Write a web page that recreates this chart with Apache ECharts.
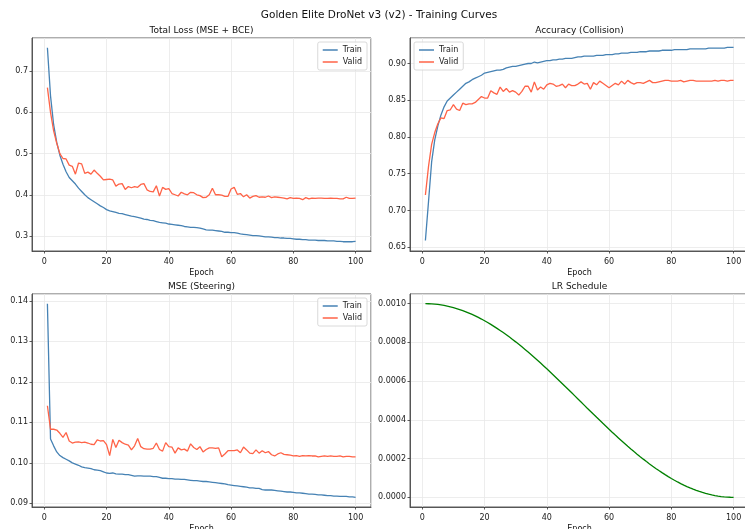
<!DOCTYPE html>
<html>
<head>
<meta charset="utf-8">
<script src="https://cdn.jsdelivr.net/npm/echarts@6.0.0/dist/echarts.min.js"></script>
<style>
  html, body { margin: 0; padding: 0; background: #fff; }
  #chart { width: 745px; height: 529px; }
</style>
</head>
<body>
<div id="chart"></div>
<script>
// epochs 1..100
const epochs = Array.from({ length: 100 }, (_, i) => i + 1)

const lossTrain = [
  0.757, 0.640, 0.570, 0.527, 0.496, 0.474, 0.456, 0.442, 0.434, 0.426,
  0.416, 0.408, 0.400, 0.393, 0.388, 0.383, 0.378, 0.373, 0.369, 0.364,
  0.361, 0.359, 0.357, 0.355, 0.354, 0.352, 0.350, 0.348, 0.347, 0.345,
  0.343, 0.341, 0.340, 0.338, 0.337, 0.335, 0.333, 0.332, 0.331, 0.329,
  0.328, 0.327, 0.326, 0.325, 0.323, 0.322, 0.321, 0.321, 0.320, 0.319,
  0.317, 0.315, 0.314, 0.314, 0.313, 0.312, 0.311, 0.309, 0.309, 0.308,
  0.308, 0.307, 0.305, 0.304, 0.303, 0.302, 0.301, 0.301, 0.300, 0.299,
  0.298, 0.298, 0.297, 0.296, 0.296, 0.295, 0.295, 0.294, 0.294, 0.293,
  0.292, 0.292, 0.291, 0.291, 0.290, 0.290, 0.290, 0.289, 0.289, 0.289,
  0.288, 0.288, 0.288, 0.287, 0.287, 0.286, 0.286, 0.286, 0.286, 0.287
]
const lossValid = [
  0.660, 0.600, 0.555, 0.525, 0.500, 0.488, 0.487, 0.472, 0.469, 0.450,
  0.477, 0.475, 0.452, 0.455, 0.450, 0.460, 0.452, 0.445, 0.436, 0.437,
  0.438, 0.436, 0.421, 0.426, 0.427, 0.413, 0.420, 0.417, 0.420, 0.418,
  0.425, 0.427, 0.412, 0.408, 0.407, 0.422, 0.397, 0.418, 0.413, 0.415,
  0.403, 0.400, 0.397, 0.406, 0.402, 0.400, 0.406, 0.405, 0.400, 0.398,
  0.393, 0.394, 0.400, 0.416, 0.400, 0.400, 0.399, 0.396, 0.396, 0.414,
  0.418, 0.401, 0.403, 0.395, 0.400, 0.392, 0.396, 0.398, 0.394, 0.395,
  0.394, 0.397, 0.393, 0.395, 0.394, 0.393, 0.392, 0.390, 0.393, 0.391,
  0.392, 0.391, 0.388, 0.393, 0.390, 0.392, 0.391, 0.392, 0.392, 0.391,
  0.391, 0.392, 0.391, 0.391, 0.390, 0.390, 0.394, 0.391, 0.391, 0.392
]

const accTrain = [
  0.659, 0.712, 0.766, 0.796, 0.815, 0.830, 0.841, 0.849, 0.853, 0.857,
  0.861, 0.865, 0.869, 0.873, 0.875, 0.878, 0.880, 0.882, 0.884, 0.887,
  0.888, 0.889, 0.890, 0.891, 0.891, 0.892, 0.894, 0.895, 0.896, 0.896,
  0.897, 0.898, 0.899, 0.900, 0.900, 0.902, 0.901, 0.902, 0.903, 0.904,
  0.904, 0.905, 0.905, 0.906, 0.906, 0.907, 0.907, 0.907, 0.908, 0.909,
  0.909, 0.910, 0.910, 0.910, 0.910, 0.911, 0.911, 0.911, 0.912, 0.912,
  0.912, 0.913, 0.913, 0.914, 0.914, 0.914, 0.915, 0.915, 0.915, 0.916,
  0.916, 0.916, 0.917, 0.917, 0.917, 0.917, 0.918, 0.918, 0.918, 0.918,
  0.919, 0.919, 0.919, 0.919, 0.919, 0.920, 0.920, 0.920, 0.920, 0.920,
  0.920, 0.921, 0.921, 0.921, 0.921, 0.921, 0.921, 0.922, 0.922, 0.922
]
const accValid = [
  0.721, 0.760, 0.790, 0.806, 0.818, 0.826, 0.825, 0.836, 0.837, 0.844,
  0.838, 0.836, 0.846, 0.844, 0.845, 0.845, 0.847, 0.851, 0.855, 0.853,
  0.853, 0.863, 0.860, 0.858, 0.868, 0.862, 0.866, 0.861, 0.863, 0.861,
  0.857, 0.862, 0.869, 0.869, 0.861, 0.875, 0.864, 0.868, 0.865, 0.871,
  0.873, 0.872, 0.869, 0.870, 0.872, 0.867, 0.872, 0.870, 0.870, 0.872,
  0.875, 0.872, 0.873, 0.865, 0.874, 0.871, 0.876, 0.873, 0.870, 0.867,
  0.870, 0.873, 0.871, 0.876, 0.872, 0.877, 0.874, 0.872, 0.874, 0.874,
  0.873, 0.875, 0.877, 0.874, 0.874, 0.875, 0.876, 0.877, 0.877, 0.876,
  0.876, 0.876, 0.877, 0.875, 0.876, 0.877, 0.877, 0.876, 0.876, 0.876,
  0.876, 0.876, 0.876, 0.877, 0.876, 0.877, 0.877, 0.876, 0.877, 0.877
]

const mseTrain = [
  0.1393, 0.1059, 0.1042, 0.1027, 0.1018, 0.1013, 0.1009, 0.1005, 0.1000, 0.0997,
  0.0994, 0.0990, 0.0988, 0.0987, 0.0986, 0.0983, 0.0982, 0.0981, 0.0978, 0.0975,
  0.0974, 0.0975, 0.0973, 0.0972, 0.0972, 0.0971, 0.0971, 0.0969, 0.0967, 0.0968,
  0.0968, 0.0967, 0.0967, 0.0967, 0.0966, 0.0966, 0.0964, 0.0962, 0.0962, 0.0961,
  0.0961, 0.0960, 0.0960, 0.0959, 0.0959, 0.0958, 0.0957, 0.0956, 0.0956, 0.0955,
  0.0954, 0.0954, 0.0953, 0.0952, 0.0951, 0.0950, 0.0949, 0.0948, 0.0946, 0.0945,
  0.0944, 0.0943, 0.0942, 0.0941, 0.0940, 0.0938, 0.0938, 0.0937, 0.0937, 0.0934,
  0.0933, 0.0933, 0.0933, 0.0932, 0.0931, 0.0930, 0.0929, 0.0928, 0.0928, 0.0927,
  0.0926, 0.0926, 0.0925, 0.0924, 0.0923, 0.0923, 0.0922, 0.0921, 0.0921, 0.0920,
  0.0919, 0.0919, 0.0918, 0.0918, 0.0917, 0.0917, 0.0917, 0.0916, 0.0916, 0.0915
]
const mseValid = [
  0.1141, 0.1083, 0.1083, 0.1081, 0.1073, 0.1063, 0.1075, 0.1054, 0.1049, 0.1051,
  0.1052, 0.1050, 0.1051, 0.1049, 0.1046, 0.1045, 0.1057, 0.1054, 0.1055, 0.1045,
  0.1018, 0.1058, 0.1038, 0.1056, 0.1050, 0.1046, 0.1044, 0.1032, 0.1042, 0.1060,
  0.1040, 0.1035, 0.1034, 0.1034, 0.1036, 0.1049, 0.1033, 0.1029, 0.1050, 0.1040,
  0.1039, 0.1024, 0.1037, 0.1032, 0.1034, 0.1029, 0.1047, 0.1038, 0.1033, 0.1040,
  0.1027, 0.1033, 0.1037, 0.1037, 0.1036, 0.1037, 0.1015, 0.1022, 0.1030, 0.1030,
  0.1030, 0.1032, 0.1025, 0.1039, 0.1032, 0.1024, 0.1023, 0.1032, 0.1024, 0.1030,
  0.1025, 0.1028, 0.1020, 0.1017, 0.1022, 0.1025, 0.1021, 0.1020, 0.1019, 0.1017,
  0.1018, 0.1016, 0.1018, 0.1017, 0.1018, 0.1017, 0.1017, 0.1015, 0.1016, 0.1017,
  0.1016, 0.1017, 0.1016, 0.1016, 0.1017, 0.1015, 0.1016, 0.1016, 0.1015, 0.1015
]

// learning rate, in units of 1e-3
const LR_UNIT = 1e-3
const lrValues = [
  1.00000, 0.99975, 0.99899, 0.99774, 0.99598, 0.99372, 0.99096, 0.98772, 0.98397, 0.97975,
  0.97504, 0.96985, 0.96418, 0.95805, 0.95146, 0.94442, 0.93692, 0.92899, 0.92063, 0.91184,
  0.90264, 0.89303, 0.88302, 0.87263, 0.86187, 0.85074, 0.83925, 0.82743, 0.81528, 0.80281,
  0.79003, 0.77696, 0.76361, 0.75000, 0.73614, 0.72203, 0.70771, 0.69317, 0.67844, 0.66353,
  0.64846, 0.63324, 0.61788, 0.60240, 0.58682, 0.57116, 0.55542, 0.53962, 0.52379, 0.50793,
  0.49207, 0.47621, 0.46038, 0.44458, 0.42884, 0.41318, 0.39760, 0.38212, 0.36676, 0.35154,
  0.33647, 0.32156, 0.30683, 0.29229, 0.27797, 0.26386, 0.25000, 0.23639, 0.22304, 0.20997,
  0.19719, 0.18472, 0.17257, 0.16075, 0.14926, 0.13813, 0.12737, 0.11698, 0.10697, 0.09736,
  0.08816, 0.07937, 0.07101, 0.06308, 0.05558, 0.04854, 0.04195, 0.03582, 0.03015, 0.02496,
  0.02025, 0.01603, 0.01228, 0.00904, 0.00628, 0.00402, 0.00226, 0.00101, 0.00025, 0.00000
]

const suptitle = "Golden Elite DroNet v3 (v2) - Training Curves"
const panelTitles = ["Total Loss (MSE + BCE)", "Accuracy (Collision)", "MSE (Steering)", "LR Schedule"]
const seriesNames = ["Train", "Valid"]

const FONT = "DejaVu Sans"
const TRAIN_COLOR = "#4682B4"
const VALID_COLOR = "#FF6347"
const LR_COLOR = "#008000"
const FRAME = "#333333"
const GRIDLINE = "#e9e9e9"
const TICK_FONT = 8

const grids = [
  { left: 32, top: 38, width: 339, height: 213 },
  { left: 410, top: 38, width: 339, height: 213 },
  { left: 32, top: 294, width: 339, height: 213 },
  { left: 410, top: 294, width: 339, height: 213 }
]
const yRanges = [
  { min: 0.2635, max: 0.7805, digits: 1 },
  { min: 0.6448, max: 0.9347, digits: 2 },
  { min: 0.0891, max: 0.1417, digits: 2 },
  { min: -0.00005, max: 0.00105, digits: 4 }
]

const pairs = (ys, scale = 1) => ys.map((v, i) => [epochs[i], v * scale])

const chart = echarts.init(document.getElementById("chart"), null, { renderer: "canvas" })

const xAxes = grids.map((g, i) => ({
  type: "value",
  gridIndex: i,
  min: -3.95,
  max: 104.95,
  name: "Epoch",
  nameLocation: "middle",
  nameGap: 18,
  nameTextStyle: { fontFamily: FONT, fontSize: TICK_FONT, color: "#111" },
  axisLine: { show: true, onZero: false, lineStyle: { color: FRAME, width: 0.8 } },
  axisTick: { show: true, length: 2.5, lineStyle: { color: FRAME, width: 0.8 } },
  axisLabel: {
    fontFamily: FONT, fontSize: TICK_FONT, color: "#222", margin: 7,
    showMinLabel: false, showMaxLabel: false,
    formatter: (v) => (Math.abs(v % 20) < 1e-6 ? String(v) : "")
  },
  splitLine: { show: true, lineStyle: { color: GRIDLINE, width: 0.8 } }
}))

const yAxes = grids.map((g, i) => ({
  type: "value",
  gridIndex: i,
  min: yRanges[i].min,
  max: yRanges[i].max,
  axisLine: { show: true, onZero: false, lineStyle: { color: FRAME, width: 0.8 } },
  axisTick: { show: true, length: 2.5, lineStyle: { color: FRAME, width: 0.8 } },
  axisLabel: {
    fontFamily: FONT, fontSize: TICK_FONT, color: "#222", margin: 4,
    showMinLabel: false, showMaxLabel: false,
    formatter: (v) => v.toFixed(yRanges[i].digits)
  },
  splitLine: { show: true, lineStyle: { color: GRIDLINE, width: 0.8 } }
}))

const line = (name, data, color, idx) => ({
  type: "line",
  name,
  xAxisIndex: idx,
  yAxisIndex: idx,
  data,
  showSymbol: false,
  symbol: "none",
  animation: false,
  lineStyle: { color, width: 1.3 },
  itemStyle: { color }
})

const legendBase = {
  orient: "vertical",
  data: seriesNames,
  icon: "rect",
  itemWidth: 15,
  itemHeight: 1.5,
  itemGap: 4,
  padding: [4, 5, 4, 5],
  borderColor: "#d0d0d0",
  borderWidth: 0.8,
  borderRadius: 2,
  backgroundColor: "rgba(255,255,255,0.8)",
  textStyle: { fontFamily: FONT, fontSize: TICK_FONT, color: "#222" },
  selectedMode: false
}

const titleAt = (text, cx, top, size) => ({
  text,
  left: cx,
  top,
  textAlign: "center",
  padding: 0,
  textStyle: { fontFamily: FONT, fontSize: size, fontWeight: "normal", color: "#111" }
})

chart.setOption({
  animation: false,
  title: [
    titleAt(suptitle, 379, 10, 10.5),
    titleAt(panelTitles[0], 201.5, 26.5, 9),
    titleAt(panelTitles[1], 579.5, 26.5, 9),
    titleAt(panelTitles[2], 201.5, 282.5, 9),
    titleAt(panelTitles[3], 579.5, 282.5, 9)
  ],
  legend: [
    Object.assign({}, legendBase, { right: 378, top: 42 }),
    Object.assign({}, legendBase, { left: 414, top: 42 }),
    Object.assign({}, legendBase, { right: 378, top: 298 })
  ],
  grid: grids.map((g) => Object.assign({
    show: true,
    borderColor: FRAME,
    borderWidth: 0.8,
    backgroundColor: "transparent",
    containLabel: false,
    outerBoundsMode: "none"
  }, g)),
  xAxis: xAxes,
  yAxis: yAxes,
  series: [
    line(seriesNames[0], pairs(lossTrain), TRAIN_COLOR, 0),
    line(seriesNames[1], pairs(lossValid), VALID_COLOR, 0),
    line(seriesNames[0], pairs(accTrain), TRAIN_COLOR, 1),
    line(seriesNames[1], pairs(accValid), VALID_COLOR, 1),
    line(seriesNames[0], pairs(mseTrain), TRAIN_COLOR, 2),
    line(seriesNames[1], pairs(mseValid), VALID_COLOR, 2),
    line("LR", pairs(lrValues, LR_UNIT), LR_COLOR, 3)
  ]
})
</script>
</body>
</html>
